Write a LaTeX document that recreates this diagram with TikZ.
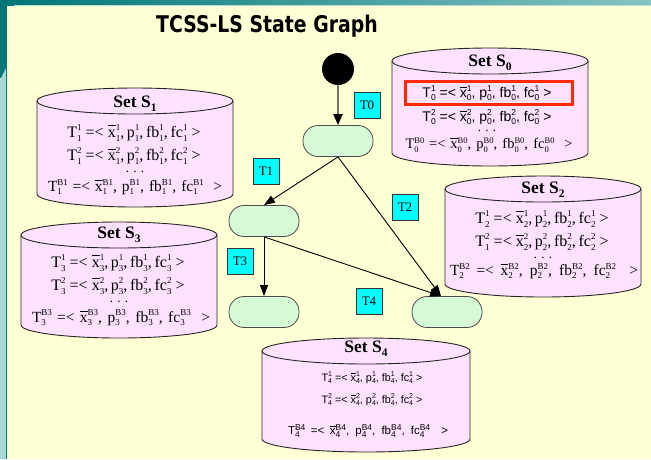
\documentclass[tikz,border=0pt]{standalone}
\usepackage{fontspec}
\setmainfont{Liberation Serif}
\setsansfont{Liberation Sans}
\newfontfamily\titlefont[FakeStretch=0.82]{DejaVu Sans}
\usetikzlibrary{arrows.meta}

\definecolor{bgyellow}{HTML}{FFFFD6}
\definecolor{tealdark}{HTML}{007676}
\definecolor{teallight}{HTML}{86C3C3}
\definecolor{tealpale}{HTML}{A8D8D8}
\definecolor{cylpink}{HTML}{FFE2FF}
\definecolor{stategreen}{HTML}{D6FAD6}
\definecolor{labelcyan}{HTML}{00FFFF}
\definecolor{hired}{HTML}{FF2A00}

% size of the stacked indices
\newcommand\scsz{7}
% stacked superscript / subscript pair
\newcommand\sscr[2]{%
  \setbox0=\hbox{\fontsize{\scsz}{\scsz}\selectfont #1}%
  \setbox2=\hbox{\fontsize{\scsz}{\scsz}\selectfont #2}%
  \ifdim\wd0>\wd2 \dimen0=\wd0 \else \dimen0=\wd2 \fi
  \hbox to\dimen0{\rlap{\raise0.40em\box0}\lower0.24em\box2\hss}}
% x with a bar
\newcommand\xb{\setbox4=\hbox{x}\rlap{\raise0.68em\hbox{\vrule width\wd4 height0.055em depth0pt}}x}
% one tuple: #1 index of T, #2 upper index, #3 lower index, #4 separator
\newcommand\trow[4]{T\sscr{#2}{#1} =< \xb\sscr{#2}{#3}#4p\sscr{#2}{#3}#4fb\sscr{#2}{#3}#4fc\sscr{#2}{#3} >}
% last tuple spread to a given width: #1 width, #2 upper index, #3 lower index
\newcommand\brow[3]{\makebox[#1][s]{T\sscr{#2}{#3} =< \xb\sscr{#2}{#3}, p\sscr{#2}{#3}, fb\sscr{#2}{#3}, fc\sscr{#2}{#3} \ >}}
\newcommand\setsub[1]{\raisebox{-0.22em}{\fontsize{11.5}{11.5}\selectfont#1}}

% cylinder: #1 name, #2 left, #3 right, #4 top, #5 bottom
\newcommand\cylry{13}
\newcommand\drawcyl[5]{%
  \pgfmathsetmacro\cylrx{(#3-#2)/2}%
  \pgfmathsetmacro\cylcx{(#3+#2)/2}%
  \draw[cylwall] (#2,#4+\cylry) -- (#2,#5-\cylry)
     arc[start angle=180,end angle=360,x radius=\cylrx pt,y radius=\cylry pt]
     -- (#3,#4+\cylry)
     arc[start angle=0,end angle=180,x radius=\cylrx pt,y radius=\cylry pt] -- cycle;
  \draw[cylrim] (#2,#4+\cylry)
     arc[start angle=180,end angle=360,x radius=\cylrx pt,y radius=\cylry pt];
  \coordinate (#1) at (\cylcx,#4);}

\tikzset{
  cylwall/.style={draw=black!85, fill=cylpink, line width=0.9pt},
  cylrim/.style={draw=black!85, line width=0.9pt},
  settitle/.style={inner sep=0pt, font=\bfseries\fontsize{17.5}{17.5}\selectfont},
  serifrow/.style={inner sep=0pt, font={\fontsize{16}{18}\selectfont\def\scsz{9}}},
  serifbrow/.style={inner sep=0pt, font={\fontsize{15.5}{17}\selectfont\def\scsz{9}}},
  sansrowbig/.style={inner sep=0pt, font={\sffamily\fontsize{14}{16}\selectfont\def\scsz{8.5}}},
  sansrow/.style={inner sep=0pt, font={\sffamily\fontsize{10.8}{13}\selectfont\def\scsz{7}}},
  sansbrow/.style={inner sep=0pt, font={\sffamily\fontsize{11.5}{13}\selectfont\def\scsz{8.5}}},
  dotsrow/.style={inner sep=0pt, font=\fontsize{13}{13}\selectfont},
  state/.style={draw=black!70, fill=stategreen, line width=0.8pt, rounded corners=15pt,
    minimum width=70pt, minimum height=31pt, inner sep=0pt},
  tlabel/.style={draw=black!80, fill=labelcyan, line width=0.8pt, minimum size=26pt,
    inner sep=0pt, font=\fontsize{13}{13}\selectfont},
  trans/.style={draw=black, line width=0.9pt, -{Triangle[length=11pt,width=8pt]}},
  entry/.style={draw=black!55, line width=2pt, -{Triangle[length=11pt,width=9pt,color=black]}},
}

\begin{document}
\begin{tikzpicture}[x=1pt,y=-1pt]
\useasboundingbox (0,0) rectangle (651,459);

% slide background and frame
\fill[bgyellow] (0,0) rectangle (651,459);
\shade[left color=tealdark, right color=teallight] (0,0) rectangle (651,5);
\draw[teallight!60!white, line width=0.8pt] (14,5.6) -- (651,5.6);
\fill[tealdark] (0,0) rectangle (6,78);
\fill[tealpale] (0,80) -- (6,68) -- (6,459) -- (0,459) -- cycle;
\draw[tealdark, line width=1pt] (6.5,5) -- (6.5,459);

\node[font=\titlefont\bfseries\fontsize{23}{23}\selectfont] (title) at (267,26) {TCSS-LS State Graph};

% set S0
\drawcyl{S0}{392}{588}{48}{166}
\node[settitle] (s0t) at (490,63) {Set S\setsub{0}};
\node[sansrowbig] (s0r1) at (487,93) {\trow{0}{1}{0}{, }};
\node[sansrowbig] (s0r2) at (487,117) {\trow{0}{2}{0}{, }};
\node[dotsrow] (s0d) at (487,131) {. . .};
\node[serifbrow, font={\fontsize{14.5}{16}\selectfont\def\scsz{8.5}}] (s0r3) at (489,145) {\brow{167pt}{B0}{0}};
\node[draw=hired, line width=3pt, minimum width=167pt, minimum height=23pt, inner sep=0pt] (hl) at (488.5,92.5) {};

% set S1
\drawcyl{S1}{37}{233}{88}{207}
\node[settitle] (s1t) at (135,104) {Set S\setsub{1}};
\node[serifrow] (s1r1) at (134,133) {\trow{1}{1}{1}{,\,}};
\node[serifrow] (s1r2) at (134,156) {\trow{1}{2}{1}{,\,}};
\node[dotsrow] (s1d) at (135,172) {. . .};
\node[serifbrow] (s1r3) at (135,187) {\brow{174pt}{B1}{1}};

% set S2
\drawcyl{S2}{445}{641}{176}{297}
\node[settitle] (s2t) at (543,190) {Set S\setsub{2}};
\node[serifrow] (s2r1) at (542,219) {\trow{2}{1}{2}{,\,}};
\node[serifrow] (s2r2) at (542,242) {\trow{1}{2}{2}{,\,}};
\node[dotsrow] (s2d) at (543,258) {. . .};
\node[serifbrow] (s2r3) at (544,271) {\brow{188pt}{B2}{2}};

% set S3
\drawcyl{S3}{21}{217}{222}{338}
\node[settitle] (s3t) at (119,235) {Set S\setsub{3}};
\node[serifrow] (s3r1) at (118,263) {\trow{3}{1}{3}{,\,}};
\node[serifrow] (s3r2) at (118,286) {\trow{3}{2}{3}{,\,}};
\node[dotsrow] (s3d) at (119,302) {. . .};
\node[serifbrow] (s3r3) at (121,318) {\brow{178pt}{B3}{3}};

% set S4
\drawcyl{S4}{262}{470}{338}{452}
\node[settitle] (s4t) at (366,349) {Set S\setsub{4}};
\node[sansrow] (s4r1) at (372,378) {\trow{4}{1}{4}{, }};
\node[sansrow] (s4r2) at (372,400) {\trow{4}{2}{4}{, }};
\node[sansbrow] (s4r3) at (368,431) {\brow{160pt}{B4}{4}};

% state graph
\node[circle, fill=black, minimum size=32pt, inner sep=0pt] (start) at (338,69) {};
\node[state] (A) at (338,141) {};
\node[state] (B) at (264,221) {};
\node[state] (C) at (264,312) {};
\node[state] (D) at (447,312) {};

\draw[entry] (start.south) -- (A.north);
\draw[trans] (A.south) -- (B.north);
\draw[trans] (A.south) -- ([xshift=-6pt]D.north);
\draw[trans] (B.south) -- (C.north);
\draw[trans] (B.south) -- ([xshift=-6pt]D.north);

\node[tlabel] (t0) at (367,105) {T0};
\node[tlabel] (t1) at (266,171) {T1};
\node[tlabel] (t2) at (405,207) {T2};
\node[tlabel] (t3) at (240,261) {T3};
\node[tlabel] (t4) at (369,301) {T4};
\end{tikzpicture}
\end{document}
